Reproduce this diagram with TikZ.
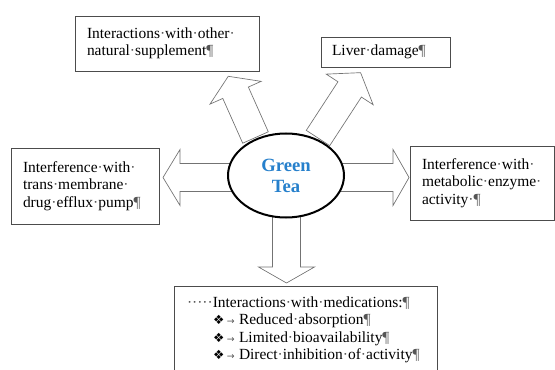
\documentclass[tikz,border=0pt]{standalone}
\usepackage{fontspec}
\setmainfont{Liberation Serif}
\newfontfamily\dejavu{DejaVu Sans}
\usetikzlibrary{calc, shapes.geometric}

\definecolor{teablue}{RGB}{38,128,204}
\definecolor{markgray}{RGB}{85,85,85}
\newcommand{\sd}{\textcolor{markgray}{·}}
\newcommand{\pil}{\textcolor{markgray}{¶}}
\newcommand{\bul}{{\dejavu\fontsize{9.5}{9.5}\selectfont ❖}}
\newcommand{\tabmark}{\textcolor{markgray}{\dejavu\fontsize{7}{7}\selectfont →}}

% base, angle, shaft length, head length
\newcommand{\blockarrow}[4]{%
  \draw[arrowline, shift={(#1)}, rotate=#2]
    (0,-14) -- (#3,-14) -- (#3,-28) -- ({#3+#4},0) -- (#3,28) -- (#3,14) -- (0,14) -- cycle;}

\tikzset{
  infobox/.style={draw=black!70, line width=0.6pt, align=left, inner ysep=0pt,
    font=\fontsize{11.6}{13.1}\selectfont},
  arrowline/.style={draw=black!55, line width=0.5pt, fill=white, line join=miter},
  teanode/.style={ellipse, draw=black, line width=1.5pt, fill=white,
    minimum width=87pt, minimum height=63pt, inner sep=0pt, align=center,
    text=teablue, font=\bfseries\fontsize{14}{15.75}\selectfont}
}

\begin{document}
\begin{tikzpicture}[x=0.75pt, y=-0.75pt]
    \path[use as bounding box, clip] (0,0) rectangle (555,370);

    \coordinate (c) at (286,175.5);
    \coordinate (baseL) at ($(c)+(-50,2)$);
    \coordinate (baseR) at ($(c)+(50,2)$);
    \coordinate (baseD) at ($(c)+(0.5,31.5)$);
    \coordinate (baseUL) at ($(c)+(-30.5,-38)$);
    \coordinate (baseUR) at ($(c)+(32,-37.5)$);

    \blockarrow{baseL}{180}{56}{17}
    \blockarrow{baseR}{0}{57}{16}
    \blockarrow{baseD}{-90}{60}{16}
    \blockarrow{baseUL}{114}{49}{18}
    \blockarrow{baseUR}{56.9}{58}{20}

    \node[teanode] (tea) at (c) {Green\\Tea};

    \node[infobox, minimum height=41.25pt, text width=120pt, inner xsep=9pt]
      (supp) at (167,43.5) {Interactions\sd with\sd other\sd\\natural\sd supplement\pil};
    \node[infobox, minimum height=22.5pt, text width=80.25pt, inner xsep=8.25pt]
      (liver) at (385.5,52) {Liver\sd damage\pil};
    \node[infobox, minimum height=57pt, text width=93pt, inner xsep=9pt]
      (pump) at (85,186) {Interference\sd with\sd\\trans\sd membrane\sd\\drug\sd efflux\sd pump\pil};
    \node[infobox, minimum height=55.5pt, text width=90pt, inner xsep=9pt]
      (enzyme) at (482,183) {Interference\sd with\sd\\metabolic\sd enzyme\sd\\activity\sd\pil};
    \node[infobox, anchor=north, text width=177.75pt, inner xsep=9.75pt, inner ysep=7.5pt]
      (meds) at (305.5,286) {\sd\sd\sd\sd\sd Interactions\sd with\sd medications:\pil\\
      \hspace*{19.5pt}\makebox[19.5pt][l]{\bul\,\tabmark}Reduced\sd absorption\pil\\
      \hspace*{19.5pt}\makebox[19.5pt][l]{\bul\,\tabmark}Limited\sd bioavailability\pil\\
      \hspace*{19.5pt}\makebox[19.5pt][l]{\bul\,\tabmark}Direct\sd inhibition\sd of\sd activity\pil};
\end{tikzpicture}
\end{document}
